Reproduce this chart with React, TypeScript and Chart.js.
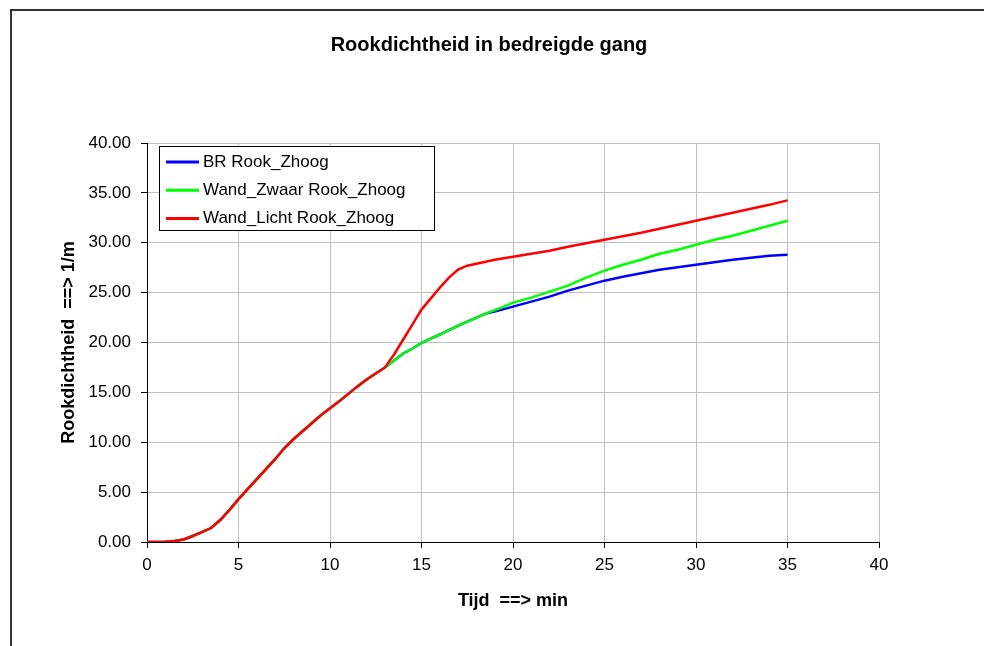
import React, { useEffect, useRef } from "react";
import { Chart, registerables } from "chart.js";

Chart.register(...registerables);

const TITLE = "Rookdichtheid in bedreigde gang";
const X_TITLE = "Tijd  ==> min";
const Y_TITLE = "Rookdichtheid  ==> 1/m";
const SERIES_NAMES = ["BR Rook_Zhoog", "Wand_Zwaar Rook_Zhoog", "Wand_Licht Rook_Zhoog"];
const SERIES_COLORS = ["#0000ff", "#00ff00", "#ff0000"];

const times = [
  0, 0.5, 1, 1.5, 2, 2.5, 3, 3.5, 4, 4.5, 5, 5.5, 6, 6.5, 7, 7.5, 8, 8.5, 9, 9.5,
  10, 10.5, 11, 11.5, 12, 12.5, 13, 13.5, 14, 14.5, 15, 15.5, 16, 16.5, 17, 17.5,
  18, 18.5, 19, 19.5, 20, 21, 22, 23, 24, 25, 26, 27, 28, 29, 30, 31, 32, 33, 34, 35,
];

const brRook = [
  0, 0, 0.02, 0.1, 0.25, 0.6, 1.0, 1.4, 2.2, 3.2, 4.3, 5.3, 6.3, 7.3, 8.3, 9.4, 10.3, 11.1, 11.9, 12.7,
  13.4, 14.1, 14.85, 15.6, 16.3, 16.9, 17.5, 18.2, 18.9, 19.4, 19.95, 20.4, 20.8, 21.25, 21.7, 22.1,
  22.5, 22.9, 23.1, 23.35, 23.6, 24.1, 24.6, 25.2, 25.7, 26.2, 26.6, 26.95, 27.3, 27.55, 27.8, 28.05, 28.3, 28.5, 28.7, 28.8,
];

const wandZwaar = [
  0, 0, 0.02, 0.1, 0.25, 0.6, 1.0, 1.4, 2.2, 3.2, 4.3, 5.3, 6.3, 7.3, 8.3, 9.4, 10.3, 11.1, 11.9, 12.7,
  13.4, 14.1, 14.85, 15.6, 16.3, 16.9, 17.5, 18.2, 18.9, 19.4, 19.95, 20.4, 20.8, 21.25, 21.7, 22.1,
  22.5, 22.9, 23.25, 23.6, 24.0, 24.5, 25.1, 25.7, 26.5, 27.2, 27.8, 28.3, 28.9, 29.3, 29.8, 30.3, 30.7, 31.2, 31.7, 32.2,
];

const wandLicht = [
  0, 0, 0.02, 0.1, 0.25, 0.6, 1.0, 1.4, 2.2, 3.2, 4.3, 5.3, 6.3, 7.3, 8.3, 9.4, 10.3, 11.1, 11.9, 12.7,
  13.4, 14.1, 14.85, 15.6, 16.3, 16.9, 17.5, 18.8, 20.3, 21.8, 23.3, 24.4, 25.5, 26.5, 27.3, 27.7,
  27.9, 28.1, 28.3, 28.45, 28.6, 28.9, 29.2, 29.6, 29.95, 30.3, 30.65, 31.0, 31.4, 31.8, 32.2, 32.6, 33.0, 33.4, 33.8, 34.25,
];

const seriesValues = [brRook, wandZwaar, wandLicht];

const FONT = "'Liberation Sans', Arial, sans-serif";

const framePlugin = {
  id: "frameAndTitle",
  beforeDraw(chart: any) {
    const ctx = chart.ctx;
    ctx.save();
    ctx.fillStyle = "#ffffff";
    ctx.fillRect(0, 0, chart.width, chart.height);
    ctx.strokeStyle = "#333333";
    ctx.lineWidth = 2;
    ctx.strokeRect(11, 10, chart.width + 20, chart.height + 20);
    ctx.fillStyle = "#000000";
    ctx.font = `bold 20px ${FONT}`;
    ctx.textAlign = "center";
    ctx.textBaseline = "middle";
    ctx.fillText(TITLE, 489, 45);
    ctx.restore();
  },
};

const legendPlugin = {
  id: "insideLegend",
  afterDraw(chart: any) {
    const ctx = chart.ctx;
    const area = chart.chartArea;
    const left = area.left + 12;
    const top = area.top + 3;
    const w = 275;
    const h = 84;
    ctx.save();
    ctx.fillStyle = "#ffffff";
    ctx.fillRect(left, top, w, h);
    ctx.strokeStyle = "#000000";
    ctx.lineWidth = 1;
    ctx.strokeRect(left + 0.5, top + 0.5, w, h);
    ctx.font = `17px ${FONT}`;
    ctx.textAlign = "left";
    ctx.textBaseline = "middle";
    SERIES_NAMES.forEach((name, i) => {
      const y = top + 16 + i * 28.3;
      ctx.strokeStyle = SERIES_COLORS[i];
      ctx.lineWidth = 3;
      ctx.beginPath();
      ctx.moveTo(left + 7, y);
      ctx.lineTo(left + 40, y);
      ctx.stroke();
      ctx.fillStyle = "#000000";
      ctx.fillText(name, left + 44, y);
    });
    ctx.restore();
  },
};

export default function App() {
  const canvasRef = useRef<HTMLCanvasElement | null>(null);

  useEffect(() => {
    if (!canvasRef.current) return;
    const orders = [3, 2, 1];
    const chart = new Chart(canvasRef.current, {
      type: "line",
      data: {
        datasets: SERIES_NAMES.map((name, i) => ({
          label: name,
          data: times.map((t, j) => ({ x: t, y: seriesValues[i][j] })),
          borderColor: SERIES_COLORS[i],
          backgroundColor: SERIES_COLORS[i],
          borderWidth: 2.5,
          pointRadius: 0,
          tension: 0,
          fill: false,
          order: orders[i],
        })),
      },
      options: {
        animation: false,
        responsive: false,
        maintainAspectRatio: false,
        layout: { padding: { left: 0, top: 143, right: 105, bottom: 0 } },
        plugins: {
          legend: { display: false },
          title: { display: false },
          tooltip: { enabled: false },
        },
        scales: {
          x: {
            type: "linear",
            min: 0,
            max: 40,
            afterFit: (scale: any) => {
              scale.height = 104;
            },
            ticks: {
              stepSize: 5,
              color: "#000000",
              padding: 7,
              maxRotation: 0,
              font: { family: FONT, size: 17 },
            },
            grid: { color: "#c0c0c0", lineWidth: 1, tickLength: 6, tickColor: "#000000" },
            border: { color: "#000000", width: 1 },
            title: {
              display: true,
              text: X_TITLE,
              color: "#000000",
              font: { family: FONT, size: 18, weight: "bold" },
              padding: { top: 0, bottom: 34 },
            },
          },
          y: {
            type: "linear",
            min: 0,
            max: 40,
            afterFit: (scale: any) => {
              scale.width = 147;
            },
            ticks: {
              stepSize: 5,
              color: "#000000",
              padding: 10,
              font: { family: FONT, size: 17 },
              callback: (v: any) => Number(v).toFixed(2),
            },
            grid: { color: "#c0c0c0", lineWidth: 1, tickLength: 6, tickColor: "#000000" },
            border: { color: "#000000", width: 1 },
            title: {
              display: true,
              text: Y_TITLE,
              color: "#000000",
              font: { family: FONT, size: 18, weight: "bold" },
              padding: { top: 58, bottom: 0 },
            },
          },
        },
      },
      plugins: [framePlugin, legendPlugin],
    });
    return () => chart.destroy();
  }, []);

  return (
    <div style={{ position: "absolute", left: 0, top: 0, width: 984, height: 646, background: "#fff" }}>
      <canvas ref={canvasRef} width={984} height={646} style={{ display: "block" }} />
    </div>
  );
}
